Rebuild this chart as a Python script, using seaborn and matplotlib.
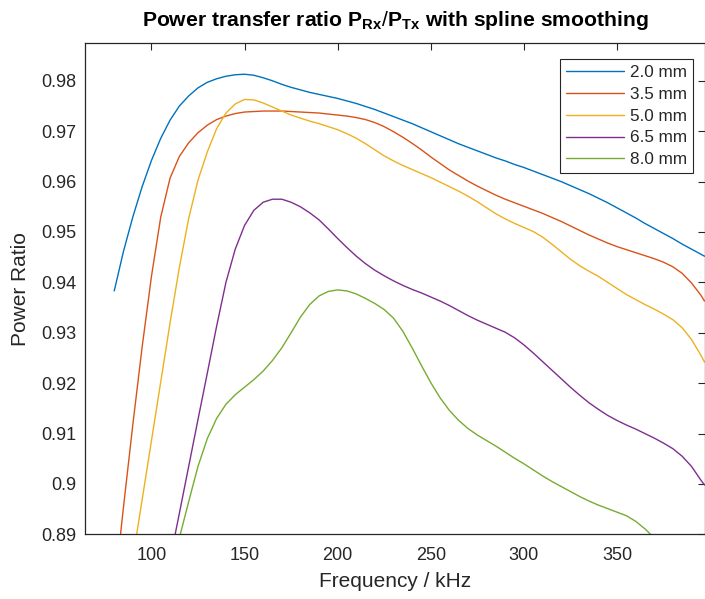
import numpy as np
import pandas as pd
import matplotlib
matplotlib.use("Agg")
import matplotlib.pyplot as plt
import seaborn as sns

# Frequency grid (kHz) shared by all coil gaps
freq_khz = list(range(80, 400, 5)) + [397]

ratio_2_0 = [0.9383, 0.9462, 0.9530, 0.9590, 0.9642, 0.9686, 0.9722, 0.9750,
             0.9770, 0.9786, 0.9797, 0.9804, 0.9809, 0.9812, 0.9813, 0.9811,
             0.9806, 0.9800, 0.9793, 0.9787, 0.9782, 0.9777, 0.9773, 0.9769,
             0.9765, 0.9760, 0.9755, 0.9749, 0.9743, 0.9736, 0.9729, 0.9722,
             0.9715, 0.9707, 0.9699, 0.9691, 0.9683, 0.9675, 0.9668, 0.9661,
             0.9654, 0.9647, 0.9641, 0.9634, 0.9628, 0.9621, 0.9614, 0.9607,
             0.9600, 0.9592, 0.9584, 0.9576, 0.9567, 0.9558, 0.9548, 0.9538,
             0.9528, 0.9517, 0.9507, 0.9497, 0.9487, 0.9476, 0.9466, 0.9456,
             0.9452]

ratio_3_5 = [0.8785, 0.8955, 0.9118, 0.9272, 0.9412, 0.9530, 0.9607, 0.9650,
             0.9677, 0.9697, 0.9712, 0.9723, 0.9730, 0.9735, 0.9738, 0.9739,
             0.9740, 0.9740, 0.9740, 0.9739, 0.9738, 0.9737, 0.9736, 0.9734,
             0.9732, 0.9730, 0.9727, 0.9723, 0.9717, 0.9709, 0.9699, 0.9688,
             0.9676, 0.9663, 0.9649, 0.9636, 0.9623, 0.9612, 0.9601, 0.9591,
             0.9582, 0.9573, 0.9565, 0.9558, 0.9551, 0.9544, 0.9537, 0.9529,
             0.9521, 0.9512, 0.9503, 0.9494, 0.9486, 0.9478, 0.9471, 0.9465,
             0.9459, 0.9453, 0.9447, 0.9440, 0.9431, 0.9418, 0.9399, 0.9375,
             0.9363]

ratio_5_0 = [0.8618, 0.8735, 0.8852, 0.8969, 0.9086, 0.9203, 0.9320, 0.9430,
             0.9527, 0.9603, 0.9659, 0.9705, 0.9736, 0.9754, 0.9763, 0.9762,
             0.9756, 0.9748, 0.9740, 0.9732, 0.9726, 0.9720, 0.9715, 0.9709,
             0.9703, 0.9695, 0.9686, 0.9675, 0.9663, 0.9651, 0.9641, 0.9632,
             0.9624, 0.9616, 0.9608, 0.9599, 0.9590, 0.9581, 0.9571, 0.9560,
             0.9548, 0.9536, 0.9526, 0.9517, 0.9509, 0.9501, 0.9490, 0.9476,
             0.9461, 0.9446, 0.9433, 0.9422, 0.9412, 0.9400, 0.9388, 0.9376,
             0.9366, 0.9356, 0.9347, 0.9337, 0.9326, 0.9310, 0.9287, 0.9256,
             0.9242]

ratio_6_5 = [np.nan, np.nan, np.nan, np.nan,
             0.8660, 0.8755, 0.8850, 0.8942, 0.9035, 0.9128, 0.9220, 0.9313,
             0.9400, 0.9466, 0.9513, 0.9543, 0.9559, 0.9565, 0.9565, 0.9559,
             0.9550, 0.9538, 0.9524, 0.9506, 0.9487, 0.9469, 0.9452, 0.9437,
             0.9424, 0.9413, 0.9403, 0.9394, 0.9386, 0.9379, 0.9371, 0.9363,
             0.9354, 0.9344, 0.9334, 0.9325, 0.9317, 0.9309, 0.9301, 0.9290,
             0.9276, 0.9260, 0.9243, 0.9226, 0.9209, 0.9192, 0.9176, 0.9161,
             0.9148, 0.9136, 0.9126, 0.9117, 0.9109, 0.9100, 0.9091, 0.9081,
             0.9070, 0.9055, 0.9035, 0.9008, 0.8998]

ratio_8_0 = [np.nan, np.nan, np.nan, np.nan,
             0.8640, 0.8735, 0.8825, 0.8893, 0.8965, 0.9035, 0.9090, 0.9130,
             0.9158, 0.9177, 0.9192, 0.9207, 0.9224, 0.9245, 0.9270, 0.9300,
             0.9331, 0.9356, 0.9373, 0.9382, 0.9385, 0.9383, 0.9377, 0.9368,
             0.9358, 0.9346, 0.9329, 0.9303, 0.9270, 0.9235, 0.9201, 0.9171,
             0.9146, 0.9126, 0.9110, 0.9097, 0.9086, 0.9075, 0.9063, 0.9051,
             0.9040, 0.9028, 0.9016, 0.9005, 0.8995, 0.8985, 0.8975, 0.8966,
             0.8958, 0.8951, 0.8944, 0.8937, 0.8926, 0.8911, 0.8893, 0.8873,
             0.8852, 0.8830, 0.8808, 0.8786, 0.8777]

gap_labels = ["2.0 mm", "3.5 mm", "5.0 mm", "6.5 mm", "8.0 mm"]
line_colors = ["#0072BD", "#D95319", "#EDB120", "#7E2F8E", "#77AC30"]

x_ticks = [100, 150, 200, 250, 300, 350]
y_ticks = [0.89, 0.90, 0.91, 0.92, 0.93, 0.94, 0.95, 0.96, 0.97, 0.98]
y_tick_labels = ["0.89", "0.9", "0.91", "0.92", "0.93", "0.94", "0.95",
                 "0.96", "0.97", "0.98"]

series = [ratio_2_0, ratio_3_5, ratio_5_0, ratio_6_5, ratio_8_0]
df = pd.concat(
    [pd.DataFrame({"freq": freq_khz, "ratio": vals, "gap": lab})
     for vals, lab in zip(series, gap_labels)],
    ignore_index=True,
).dropna()

sns.set_theme(style="white")
plt.rcParams["font.family"] = ["Liberation Sans", "DejaVu Sans"]
plt.rcParams["mathtext.fontset"] = "custom"
plt.rcParams["mathtext.rm"] = "Liberation Sans"
plt.rcParams["mathtext.bf"] = "Liberation Sans:bold"

ink = "#262626"
fig = plt.figure(figsize=(7.05, 5.99), dpi=100)
ax = fig.add_axes([85 / 705, 1 - 534.3 / 599, 620 / 705, (534.3 - 43) / 599])

sns.lineplot(data=df, x="freq", y="ratio", hue="gap", hue_order=gap_labels,
             palette=line_colors, estimator=None, sort=True, linewidth=1.0,
             ax=ax)

ax.set_xlim(64.3, 397.3)
ax.set_ylim(0.89, 0.9875)
ax.set_xticks(x_ticks)
ax.set_xticklabels([str(t) for t in x_ticks])
ax.set_yticks(y_ticks)
ax.set_yticklabels(y_tick_labels)

ax.tick_params(direction="in", top=True, right=True, length=5, width=0.8,
               color=ink, labelcolor=ink, labelsize=13)
ax.tick_params(axis="x", pad=9)
ax.tick_params(axis="y", pad=6)
for sp in ax.spines.values():
    sp.set_color(ink)
    sp.set_linewidth(0.9)

ax.set_xlabel("Frequency / kHz", fontsize=15, color=ink, labelpad=6)
ax.set_ylabel("Power Ratio", fontsize=15, color=ink, labelpad=8)
ax.set_title(r"Power transfer ratio $\mathbf{P}_{\mathbf{Rx}}/\mathbf{P}_{\mathbf{Tx}}$ with spline smoothing",
             fontsize=15.2, fontweight="bold", color="black", pad=12)

leg = ax.legend(loc="upper right", bbox_to_anchor=(0.981, 0.9674),
                borderaxespad=0, fontsize=12.3, frameon=True, fancybox=False,
                framealpha=1, edgecolor=ink, handlelength=3.4,
                labelspacing=0.4, borderpad=0.35, handletextpad=0.35)
leg.get_frame().set_linewidth(0.8)
for t in leg.get_texts():
    t.set_color(ink)
for h in leg.get_lines():
    h.set_linewidth(1.0)

fig.savefig("out.png", dpi=100)
